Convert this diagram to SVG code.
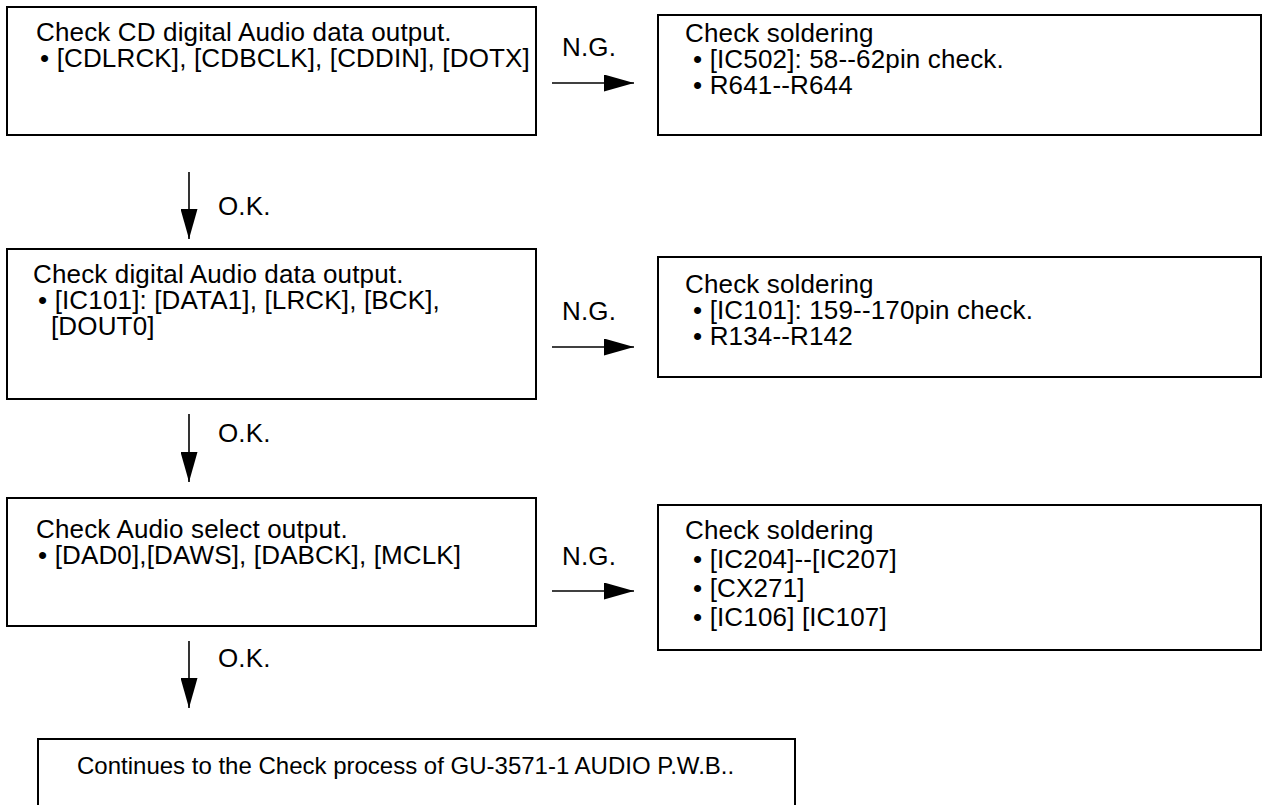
<svg xmlns="http://www.w3.org/2000/svg" width="1263" height="805" viewBox="0 0 1263 805">
<style>
  .box { fill: #fff; stroke: #000; stroke-width: 2; }
  .t { font-family: "Liberation Sans", Arial, sans-serif; font-size: 26px; letter-spacing: 0.15px; fill: #000; }
  .s { font-family: "Liberation Sans", Arial, sans-serif; font-size: 24px; fill: #000; }
  .conn { stroke: #000; stroke-width: 1.6; fill: none; }
</style>
<defs>
  <marker id="ah" markerWidth="30" markerHeight="17" refX="30" refY="8.5" orient="auto" markerUnits="userSpaceOnUse">
    <path d="M0,0 L30,8.5 L0,17 z" fill="#000"/>
  </marker>
</defs>
<rect width="1263" height="805" fill="#fff"/>

<g id="n1">
  <rect class="box" x="7" y="7" width="529" height="128"/>
  <text class="t" x="36" y="41">Check CD digital Audio data output.</text>
  <text class="t" x="40" y="67">• [CDLRCK], [CDBCLK], [CDDIN], [DOTX]</text>
</g>
<g id="n2">
  <rect class="box" x="658" y="15" width="603" height="120"/>
  <text class="t" x="685" y="42">Check soldering</text>
  <text class="t" x="693" y="68">• [IC502]: 58--62pin check.</text>
  <text class="t" x="693" y="94">• R641--R644</text>
</g>
<g id="n3">
  <rect class="box" x="7" y="249" width="529" height="150"/>
  <text class="t" x="33" y="283">Check digital Audio data output.</text>
  <text class="t" x="38" y="309">• [IC101]: [DATA1], [LRCK], [BCK],</text>
  <text class="t" x="51" y="335">[DOUT0]</text>
</g>
<g id="n4">
  <rect class="box" x="658" y="257" width="603" height="120"/>
  <text class="t" x="685" y="293">Check soldering</text>
  <text class="t" x="693" y="319">• [IC101]: 159--170pin check.</text>
  <text class="t" x="693" y="345">• R134--R142</text>
</g>
<g id="n5">
  <rect class="box" x="7" y="498" width="529" height="128"/>
  <text class="t" x="36" y="538">Check Audio select output.</text>
  <text class="t" x="38" y="564">• [DAD0],[DAWS], [DABCK], [MCLK]</text>
</g>
<g id="n6">
  <rect class="box" x="658" y="505" width="603" height="145"/>
  <text class="t" x="685" y="539">Check soldering</text>
  <text class="t" x="693" y="568">• [IC204]--[IC207]</text>
  <text class="t" x="693" y="597">• [CX271]</text>
  <text class="t" x="693" y="626">• [IC106] [IC107]</text>
</g>
<g id="n7">
  <rect class="box" x="38" y="739" width="757" height="80"/>
  <text class="s" x="77" y="774">Continues to the Check process of GU-3571-1 AUDIO P.W.B..</text>
</g>

<g id="connectors">
  <line class="conn" x1="552" y1="83" x2="634" y2="83" marker-end="url(#ah)"/>
  <line class="conn" x1="552" y1="347" x2="634" y2="347" marker-end="url(#ah)"/>
  <line class="conn" x1="552" y1="591" x2="634" y2="591" marker-end="url(#ah)"/>
  <line class="conn" x1="189" y1="172" x2="189" y2="239" marker-end="url(#ah)"/>
  <line class="conn" x1="189" y1="414" x2="189" y2="482" marker-end="url(#ah)"/>
  <line class="conn" x1="189" y1="641" x2="189" y2="708" marker-end="url(#ah)"/>
  <text class="t" x="562" y="56">N.G.</text>
  <text class="t" x="562" y="320">N.G.</text>
  <text class="t" x="562" y="565">N.G.</text>
  <text class="t" x="218" y="215">O.K.</text>
  <text class="t" x="218" y="442">O.K.</text>
  <text class="t" x="218" y="667">O.K.</text>
</g>
</svg>
